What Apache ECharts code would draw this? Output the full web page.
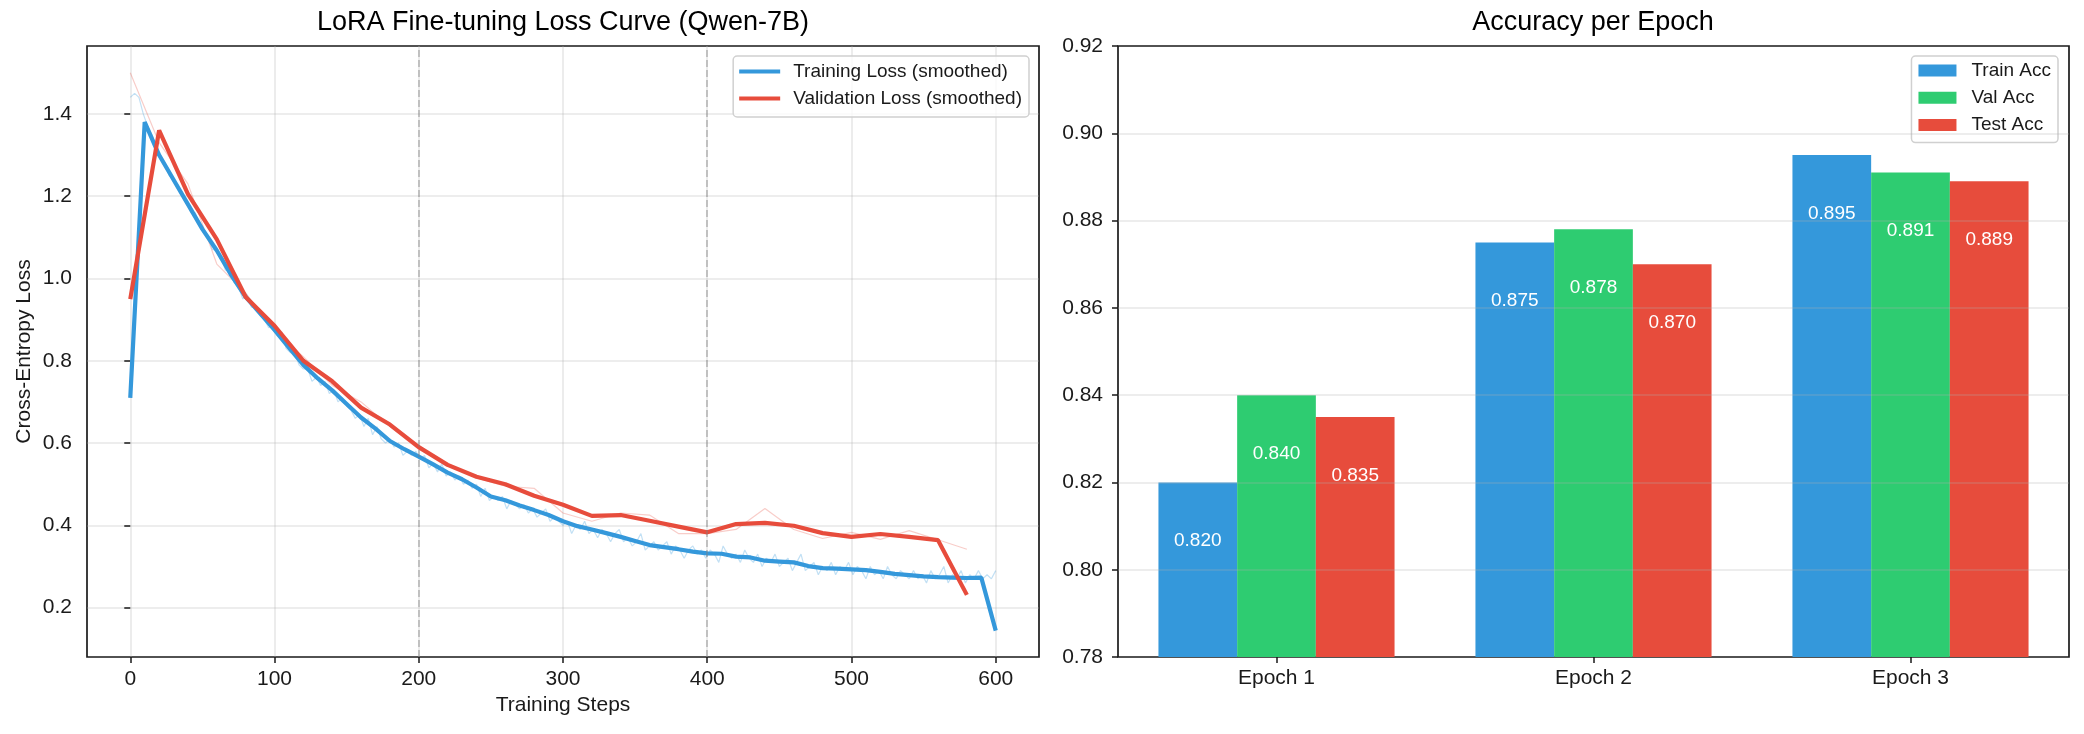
<!DOCTYPE html>
<html>
<head>
<meta charset="utf-8">
<title>LoRA Fine-tuning</title>
<script src="https://cdn.jsdelivr.net/npm/echarts@6/dist/echarts.min.js"></script>
<style>
  html, body { margin: 0; padding: 0; background: #fff; }
  #chart { width: 2084px; height: 734px; }
</style>
</head>
<body>
<div id="chart"></div>
<script>
/* loss curve data */
// raw training loss, one value every 3 steps (0..600)
const trainRaw = [
  1.44, 1.45, 1.44, 1.40, 1.37, 1.35, 1.32, 1.29, 1.28, 1.25,
  1.24, 1.22, 1.20, 1.19, 1.16, 1.16, 1.13, 1.11, 1.10, 1.07,
  1.07, 1.05, 1.02, 1.02, 0.99, 0.98, 0.95, 0.96, 0.93, 0.93,
  0.91, 0.90, 0.88, 0.89, 0.86, 0.87, 0.83, 0.82, 0.82, 0.79,
  0.78, 0.78, 0.75, 0.76, 0.74, 0.75, 0.72, 0.73, 0.70, 0.71,
  0.69, 0.68, 0.66, 0.67, 0.64, 0.66, 0.62, 0.64, 0.61, 0.60,
  0.61, 0.59, 0.60, 0.57, 0.58, 0.57, 0.58, 0.56, 0.57, 0.54,
  0.55, 0.53, 0.55, 0.52, 0.53, 0.51, 0.52, 0.50, 0.51, 0.49,
  0.50, 0.47, 0.49, 0.46, 0.47, 0.46, 0.47, 0.44, 0.46, 0.45,
  0.44, 0.45, 0.43, 0.44, 0.42, 0.43, 0.44, 0.41, 0.42, 0.41,
  0.40, 0.41, 0.38, 0.40, 0.39, 0.41, 0.38, 0.39, 0.37, 0.39,
  0.38, 0.36, 0.38, 0.39, 0.36, 0.37, 0.35, 0.36, 0.38, 0.34,
  0.35, 0.36, 0.34, 0.35, 0.36, 0.33, 0.35, 0.34, 0.32, 0.34,
  0.35, 0.33, 0.34, 0.32, 0.34, 0.33, 0.31, 0.35, 0.33, 0.32,
  0.33, 0.31, 0.34, 0.32, 0.31, 0.33, 0.30, 0.32, 0.31, 0.33,
  0.30, 0.31, 0.32, 0.29, 0.31, 0.33, 0.29, 0.30, 0.31, 0.28,
  0.30, 0.29, 0.31, 0.28, 0.30, 0.29, 0.31, 0.28, 0.30, 0.29,
  0.27, 0.30, 0.28, 0.29, 0.27, 0.30, 0.28, 0.27, 0.29, 0.28,
  0.27, 0.29, 0.27, 0.28, 0.26, 0.29, 0.27, 0.28, 0.30, 0.26,
  0.28, 0.27, 0.29, 0.26, 0.28, 0.27, 0.29, 0.27, 0.28, 0.27,
  0.29
]
// smoothed training loss, every 10 steps (0..600)
const trainSmooth = [
  0.71, 1.38, 1.30, 1.24, 1.18, 1.12, 1.068, 1.008, 0.955, 0.915,
  0.875, 0.832, 0.79, 0.757, 0.728, 0.695, 0.662, 0.635, 0.605, 0.585,
  0.567, 0.548, 0.528, 0.512, 0.492, 0.47, 0.461, 0.448, 0.437, 0.425,
  0.41, 0.398, 0.39, 0.381, 0.372, 0.362, 0.352, 0.347, 0.342, 0.336,
  0.332, 0.331, 0.324, 0.322, 0.314, 0.312, 0.31, 0.301, 0.296, 0.295,
  0.293, 0.291, 0.287, 0.282, 0.279, 0.276, 0.274, 0.273, 0.272, 0.273,
  0.144
]
// validation loss, every 20 steps (0..580)
const valRaw = [
  1.50, 1.33, 1.23, 1.035, 0.965, 0.87, 0.81, 0.74, 0.70, 0.64,
  0.585, 0.55, 0.515, 0.495, 0.49, 0.43, 0.41, 0.43, 0.425, 0.38,
  0.38, 0.39, 0.441, 0.39, 0.368, 0.383, 0.366, 0.387, 0.365, 0.342
]
const valSmooth = [
  0.95, 1.36, 1.205, 1.095, 0.955, 0.885, 0.80, 0.75, 0.686, 0.645,
  0.59, 0.547, 0.518, 0.50, 0.472, 0.45, 0.423, 0.425, 0.411, 0.397,
  0.383, 0.403, 0.406, 0.399, 0.381, 0.372, 0.379, 0.372, 0.364, 0.231
]
const stepTicks = [0, 100, 200, 300, 400, 500, 600]
const lossTicks = [0.2, 0.4, 0.6, 0.8, 1.0, 1.2, 1.4]
const epochMarks = [200, 400]

/* accuracy data */
const epochs = ['Epoch 1', 'Epoch 2', 'Epoch 3']
const trainAcc = [0.820, 0.875, 0.895]
const valAcc = [0.840, 0.878, 0.891]
const testAcc = [0.835, 0.870, 0.889]
const accTicks = [0.78, 0.80, 0.82, 0.84, 0.86, 0.88, 0.90, 0.92]

const ink = '#1a1a1a'
const font = '"Liberation Sans", Arial, sans-serif'
const gridLine = { color: 'rgba(176,176,176,0.3)', width: 1.6, type: 'solid' }
const blue = '#3498db', green = '#2ecc71', red = '#e74c3c'

// pair x steps with values
const withSteps = (arr, every) => arr.map((v, i) => [i * every, v])

const lossLine = (name, data, color, width) => ({
  name,
  type: 'line',
  xAxisIndex: 0,
  yAxisIndex: 0,
  data,
  symbol: 'none',
  showSymbol: false,
  silent: true,
  lineStyle: { color, width },
  itemStyle: { color }
})

const accBar = (name, data, color) => ({
  name,
  type: 'bar',
  xAxisIndex: 1,
  yAxisIndex: 1,
  data,
  barWidth: 78.7,
  barGap: '0%',
  silent: true,
  itemStyle: { color },
  label: {
    show: true,
    position: 'insideTop',
    distance: 49,
    color: '#fff',
    fontSize: 19,
    fontFamily: font,
    formatter: p => p.value.toFixed(3)
  }
})

const legendBase = {
  orient: 'vertical',
  top: 56,
  icon: 'rect',
  selectedMode: false,
  borderColor: '#d0d0d0',
  borderWidth: 1.5,
  borderRadius: 4,
  backgroundColor: 'rgba(255,255,255,0.8)'
}

const rawTrain = lossLine('Training Loss (raw)', withSteps(trainRaw, 3), 'rgba(52,152,219,0.3)', 1.2)
rawTrain.markLine = {
  silent: true,
  symbol: ['none', 'none'],
  label: { show: false },
  lineStyle: { color: 'rgba(128,128,128,0.5)', width: 1.6, type: [7, 3] },
  data: epochMarks.map(x => ({ xAxis: x }))
}

const testSeries = accBar('Test Acc', testAcc, red)
// grid lines sit on top of the bars
testSeries.markLine = {
  silent: true,
  symbol: ['none', 'none'],
  label: { show: false },
  lineStyle: gridLine,
  data: accTicks.slice(1, -1).map(v => ({ yAxis: v }))
}

const option = {
  animation: false,
  textStyle: { fontFamily: font, color: ink },
  title: [
    {
      text: 'LoRA Fine-tuning Loss Curve (Qwen-7B)',
      left: 563,
      top: 9,
      textAlign: 'center',
      padding: 0,
      textStyle: { fontSize: 27, fontWeight: 'normal', color: '#000', lineHeight: 27, fontFamily: font }
    },
    {
      text: 'Accuracy per Epoch',
      left: 1593,
      top: 9,
      textAlign: 'center',
      padding: 0,
      textStyle: { fontSize: 27, fontWeight: 'normal', color: '#000', lineHeight: 27, fontFamily: font }
    }
  ],
  legend: [
    {
      ...legendBase,
      data: ['Training Loss (smoothed)', 'Validation Loss (smoothed)'],
      right: 1055,
      itemWidth: 41,
      itemHeight: 4,
      itemGap: 8,
      padding: [6, 7, 9, 6],
      textStyle: { fontSize: 19, color: ink, lineHeight: 19, padding: [0, 0, 0, 8], fontFamily: font }
    },
    {
      ...legendBase,
      data: ['Train Acc', 'Val Acc', 'Test Acc'],
      right: 26,
      itemWidth: 38,
      itemHeight: 12,
      itemGap: 8.3,
      padding: [5, 7, 8, 7],
      textStyle: { fontSize: 19, color: ink, lineHeight: 19, padding: [0, 0, 0, 10], fontFamily: font }
    }
  ],
  grid: [
    { left: 87, right: 1045, top: 46, bottom: 77, show: true, borderColor: ink, borderWidth: 1.7, backgroundColor: 'transparent' },
    { left: 1118, right: 15, top: 46, bottom: 77, show: true, borderColor: ink, borderWidth: 1.7, backgroundColor: 'transparent' }
  ],
  xAxis: [
    {
      gridIndex: 0,
      type: 'value',
      min: -30,
      max: 630,
      minInterval: 100,
      maxInterval: 100,
      name: 'Training Steps',
      nameLocation: 'middle',
      nameGap: 38,
      nameTextStyle: { fontSize: 21, color: ink, fontFamily: font },
      axisLine: { show: false },
      axisTick: { show: true, length: 6, lineStyle: { color: ink, width: 1.5 }, customValues: stepTicks },
      axisLabel: { show: true, fontSize: 21, color: ink, margin: 12, customValues: stepTicks, formatter: v => String(v) },
      splitLine: { show: true, lineStyle: gridLine }
    },
    {
      gridIndex: 1,
      type: 'category',
      data: epochs,
      axisLine: { show: false },
      axisTick: { show: true, alignWithLabel: true, length: 6, lineStyle: { color: ink, width: 1.5 } },
      axisLabel: { show: true, fontSize: 21, color: ink, margin: 11 },
      splitLine: { show: false }
    }
  ],
  yAxis: [
    {
      gridIndex: 0,
      type: 'value',
      min: 0.08,
      max: 1.565,
      minInterval: 0.2,
      maxInterval: 0.2,
      name: 'Cross-Entropy Loss',
      nameLocation: 'middle',
      nameGap: 52,
      nameTextStyle: { fontSize: 21, color: ink, fontFamily: font },
      axisLine: { show: false },
      axisTick: { show: true, length: 6, lineStyle: { color: ink, width: 1.5 }, customValues: lossTicks },
      axisLabel: { show: true, fontSize: 21, color: ink, margin: 15, customValues: lossTicks, formatter: v => v.toFixed(1) },
      splitLine: { show: true, lineStyle: gridLine }
    },
    {
      gridIndex: 1,
      type: 'value',
      min: 0.78,
      max: 0.92,
      interval: 0.02,
      axisLine: { show: false },
      axisTick: { show: true, length: 6, lineStyle: { color: ink, width: 1.5 }, customValues: accTicks },
      axisLabel: { show: true, fontSize: 21, color: ink, margin: 15, customValues: accTicks, formatter: v => v.toFixed(2) },
      splitLine: { show: false }
    }
  ],
  series: [
    rawTrain,
    lossLine('Validation Loss (raw)', withSteps(valRaw, 20), 'rgba(231,76,60,0.28)', 1.2),
    lossLine('Training Loss (smoothed)', withSteps(trainSmooth, 10), blue, 4.2),
    lossLine('Validation Loss (smoothed)', withSteps(valSmooth, 20), red, 4.2),
    accBar('Train Acc', trainAcc, blue),
    accBar('Val Acc', valAcc, green),
    testSeries
  ]
}

const myChart = echarts.init(document.getElementById('chart'), null, { renderer: 'canvas' })
myChart.setOption(option)
</script>
</body>
</html>
